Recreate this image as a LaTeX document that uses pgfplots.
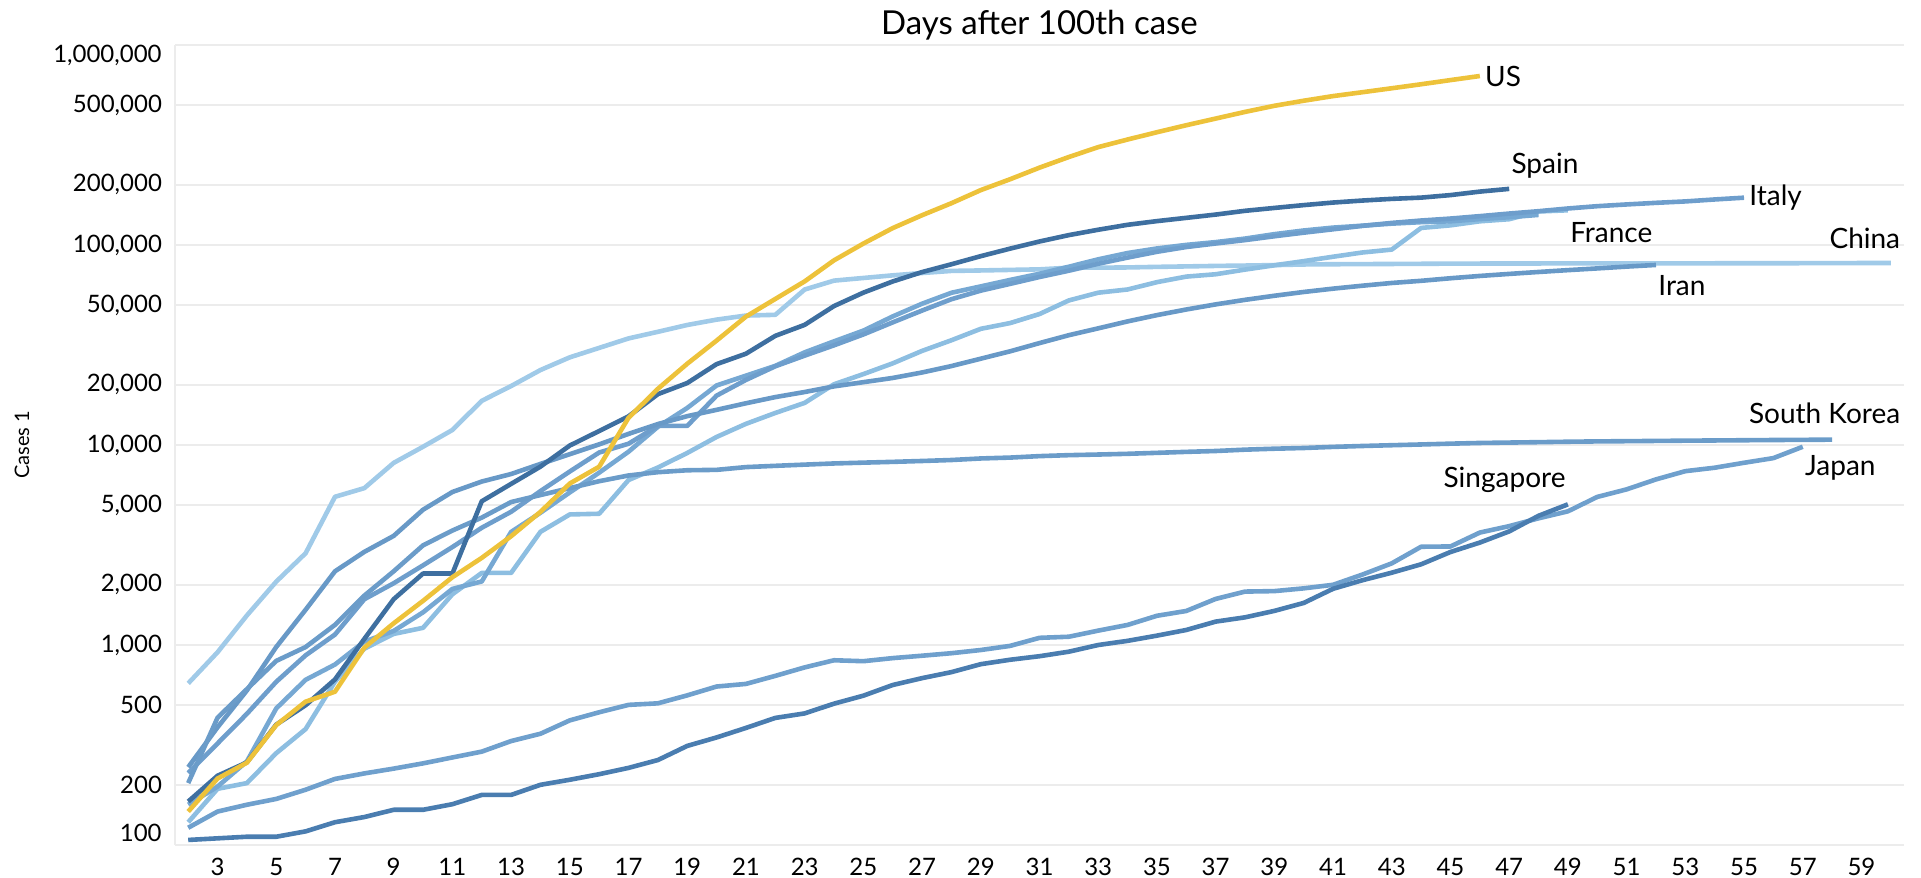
\documentclass[border=0pt]{standalone}
\usepackage{fontspec}
\setmainfont{Lato}
\usepackage{pgfplots}
\pgfplotsset{compat=1.18}
\usetikzlibrary{calc}
\definecolor{cUS}{RGB}{237,194,58}
\definecolor{cSpain}{RGB}{62,111,160}
\definecolor{cSing}{RGB}{74,125,176}
\definecolor{cItaly}{RGB}{110,158,204}
\definecolor{cIran}{RGB}{104,153,199}
\definecolor{cKorea}{RGB}{107,156,201}
\definecolor{cJapan}{RGB}{111,160,205}
\definecolor{cGermany}{RGB}{118,168,211}
\definecolor{cFrance}{RGB}{141,190,225}
\definecolor{cChina}{RGB}{160,202,232}
\definecolor{gridc}{RGB}{236,236,236}
\begin{document}
\begin{tikzpicture}
\begin{axis}[
  scale only axis, width=864.5pt, height=400pt,
  xmin=1.55, xmax=60.45, ymode=log, ymin=100, ymax=1000000,
  axis lines*=left, axis line style={draw=gridc, line width=1pt, -},
  xtick={3,5,...,59}, major tick length=0pt,
  ytick={100,200,500,1000,2000,5000,10000,20000,50000,100000,200000,500000,1000000},
  yticklabels={,200,500,{1,000},{2,000},{5,000},{10,000},{20,000},{50,000},{100,000},{200,000},{500,000},},
  /pgf/number format/assume math mode=true,
  ticklabel style={font=\fontsize{12}{14}\selectfont, text=black},
  yticklabel style={anchor=east, xshift=-3pt},
  xticklabel style={anchor=north, yshift=-3pt},
  ymajorgrids, major grid style={draw=gridc, line width=1pt},
  clip=false,
  every axis plot/.append style={line width=2.3pt, line join=round, no markers},
]
\coordinate (blc) at (rel axis cs:0,0);
\coordinate (trc) at (rel axis cs:1,1);
% China
\addplot[color=cChina] coordinates {(2,643)(3,920)(4,1406)(5,2075)(6,2877)(7,5509)(8,6087)(9,8141)(10,9802)(11,11891)(12,16630)(13,19716)(14,23707)(15,27440)(16,30587)(17,34110)(18,36814)(19,39829)(20,42354)(21,44386)(22,44759)(23,59895)(24,66358)(25,68413)(26,70513)(27,72434)(28,74211)(29,74619)(30,75077)(31,75550)(32,77001)(33,77022)(34,77241)(35,77754)(36,78166)(37,78600)(38,78928)(39,79356)(40,79932)(41,80136)(42,80261)(43,80386)(44,80537)(45,80690)(46,80770)(47,80823)(48,80860)(49,80887)(50,80921)(51,80932)(52,80945)(53,80977)(54,81003)(55,81033)(56,81058)(57,81102)(58,81156)(59,81250)(60,81305)};
% France
\addplot[color=cFrance] coordinates {(2,130)(3,191)(4,204)(5,288)(6,380)(7,656)(8,959)(9,1136)(10,1219)(11,1794)(12,2293)(13,2293)(14,3681)(15,4496)(16,4532)(17,6683)(18,7715)(19,9124)(20,10970)(21,12758)(22,14463)(23,16243)(24,20123)(25,22622)(26,25600)(27,29551)(28,33402)(29,38105)(30,40708)(31,45170)(32,52827)(33,57749)(34,59929)(35,65202)(36,69500)(37,71412)(38,75343)(39,79163)(40,83057)(41,87366)(42,91738)(43,94863)(44,121712)(45,125394)(46,131361)(47,134582)(48,147091)(49,149130)};
% Germany
\addplot[color=cGermany] coordinates {(2,159)(3,196)(4,262)(5,482)(6,670)(7,799)(8,1040)(9,1176)(10,1457)(11,1908)(12,2078)(13,3675)(14,4585)(15,5795)(16,7272)(17,9257)(18,12327)(19,15320)(20,19848)(21,22213)(22,24873)(23,29056)(24,32986)(25,37323)(26,43938)(27,50871)(28,57695)(29,62095)(30,66885)(31,71808)(32,77872)(33,84794)(34,91159)(35,96092)(36,100123)(37,103374)(38,107663)(39,113296)(40,118181)(41,122171)(42,124908)(43,127854)(44,130072)(45,131359)(46,134753)(47,137698)(48,141397)};
% Italy
\addplot[color=cItaly] coordinates {(2,229)(3,322)(4,453)(5,655)(6,888)(7,1128)(8,1694)(9,2036)(10,2502)(11,3089)(12,3858)(13,4636)(14,5883)(15,7375)(16,9172)(17,10149)(18,12462)(19,12462)(20,17660)(21,21157)(22,24747)(23,27980)(24,31506)(25,35713)(26,41035)(27,47021)(28,53578)(29,59138)(30,63927)(31,69176)(32,74386)(33,80589)(34,86498)(35,92472)(36,97689)(37,101739)(38,105792)(39,110574)(40,115242)(41,119827)(42,124632)(43,128948)(44,132547)(45,135586)(46,139422)(47,143626)(48,147577)(49,152271)(50,156363)(51,159516)(52,162488)(53,165155)(54,168941)(55,172434)};
% Iran
\addplot[color=cIran] coordinates {(2,245)(3,388)(4,593)(5,978)(6,1501)(7,2336)(8,2922)(9,3513)(10,4747)(11,5823)(12,6566)(13,7161)(14,8042)(15,9000)(16,10075)(17,11364)(18,12729)(19,13938)(20,14991)(21,16169)(22,17361)(23,18407)(24,19644)(25,20610)(26,21638)(27,23049)(28,24811)(29,27017)(30,29406)(31,32332)(32,35408)(33,38309)(34,41495)(35,44605)(36,47593)(37,50468)(38,53183)(39,55743)(40,58226)(41,60500)(42,62589)(43,64586)(44,66220)(45,68192)(46,70029)(47,71686)(48,73303)(49,74877)(50,76389)(51,77995)(52,79494)};
% South Korea
\addplot[color=cKorea] coordinates {(2,204)(3,433)(4,602)(5,833)(6,977)(7,1261)(8,1766)(9,2337)(10,3150)(11,3736)(12,4335)(13,5186)(14,5621)(15,6088)(16,6593)(17,7041)(18,7314)(19,7478)(20,7513)(21,7755)(22,7869)(23,7979)(24,8086)(25,8162)(26,8236)(27,8320)(28,8413)(29,8565)(30,8652)(31,8799)(32,8897)(33,8961)(34,9037)(35,9137)(36,9241)(37,9332)(38,9478)(39,9583)(40,9661)(41,9786)(42,9887)(43,9976)(44,10062)(45,10156)(46,10237)(47,10284)(48,10331)(49,10384)(50,10423)(51,10450)(52,10480)(53,10512)(54,10537)(55,10564)(56,10591)(57,10613)(58,10635)};
% Japan
\addplot[color=cJapan] coordinates {(2,122)(3,147)(4,159)(5,170)(6,189)(7,214)(8,228)(9,241)(10,256)(11,274)(12,293)(13,331)(14,360)(15,420)(16,461)(17,502)(18,511)(19,560)(20,620)(21,639)(22,701)(23,773)(24,839)(25,830)(26,860)(27,884)(28,910)(29,944)(30,990)(31,1086)(32,1100)(33,1180)(34,1260)(35,1400)(36,1480)(37,1700)(38,1850)(39,1860)(40,1920)(41,2000)(42,2250)(43,2560)(44,3100)(45,3110)(46,3650)(47,3930)(48,4300)(49,4660)(50,5500)(51,6000)(52,6730)(53,7400)(54,7700)(55,8150)(56,8600)(57,9800)};
% Singapore
\addplot[color=cSing] coordinates {(2,106)(3,108)(4,110)(5,110)(6,117)(7,130)(8,138)(9,150)(10,150)(11,160)(12,178)(13,178)(14,200)(15,212)(16,226)(17,243)(18,266)(19,313)(20,345)(21,385)(22,432)(23,455)(24,509)(25,558)(26,631)(27,683)(28,732)(29,802)(30,844)(31,879)(32,926)(33,1000)(34,1049)(35,1114)(36,1189)(37,1309)(38,1375)(39,1481)(40,1623)(41,1910)(42,2108)(43,2299)(44,2532)(45,2918)(46,3252)(47,3699)(48,4427)(49,5050)};
% Spain
\addplot[color=cSpain] coordinates {(2,165)(3,222)(4,259)(5,400)(6,500)(7,673)(8,1073)(9,1695)(10,2277)(11,2277)(12,5232)(13,6391)(14,7798)(15,9942)(16,11748)(17,13910)(18,17963)(19,20410)(20,25374)(21,28603)(22,35136)(23,39885)(24,49515)(25,57786)(26,65719)(27,73235)(28,80110)(29,87956)(30,95923)(31,104118)(32,112065)(33,119199)(34,126168)(35,131646)(36,136675)(37,141942)(38,148220)(39,153222)(40,158273)(41,163027)(42,166831)(43,170099)(44,172541)(45,177644)(46,184948)(47,190839)};
% US
\addplot[color=cUS] coordinates {(2,147)(3,215)(4,258)(5,398)(6,521)(7,584)(8,970)(9,1284)(10,1663)(11,2183)(12,2727)(13,3499)(14,4632)(15,6421)(16,7786)(17,13680)(18,19101)(19,25489)(20,33276)(21,43847)(22,53740)(23,65778)(24,83836)(25,101657)(26,121478)(27,140886)(28,161807)(29,188172)(30,213242)(31,243622)(32,275367)(33,308650)(34,336802)(35,366317)(36,397121)(37,428654)(38,462780)(39,496535)(40,526396)(41,555313)(42,580619)(43,607670)(44,636350)(45,667592)(46,699706)};
% labels
\begin{scope}[every node/.style={font=\fontsize{14}{16}\selectfont, text=black, inner sep=1pt}]
\node[anchor=west] at (axis cs:46.1,699706) {US};
\node[anchor=west] at (axis cs:47.0,250000) {Spain};
\node[anchor=west] at (axis cs:55.1,172434) {Italy};
\node[anchor=west] at (axis cs:49.0,116000) {France};
\node[anchor=east] at (axis cs:60.4,108000) {China};
\node[anchor=west] at (axis cs:52.0,63000) {Iran};
\node[anchor=east] at (axis cs:60.4,14450) {South Korea};
\node[anchor=west] at (axis cs:57.0,7670) {Japan};
\node[anchor=east] at (axis cs:49.0,6680) {Singapore};
\end{scope}
\node[anchor=east, font=\fontsize{12}{14}\selectfont, inner sep=0pt] at (rel axis cs:0,0) [xshift=-6.5pt, yshift=6pt] {100};
\node[anchor=east, font=\fontsize{12}{14}\selectfont, inner sep=0pt] at (rel axis cs:0,1) [xshift=-6.5pt, yshift=-5pt] {1,000,000};
\end{axis}
\node[font=\fontsize{16.5}{18}\selectfont, anchor=center] at ($(blc|-trc)!0.5!(trc)+(0,10pt)$) {Days after 100th case};
\node[rotate=90, font=\fontsize{10}{12}\selectfont, anchor=center] at ($(blc)!0.5!(blc|-trc)+(-76.5pt,0)$) {Cases 1};
\pgfresetboundingbox
\useasboundingbox ($(blc)+(-87.5pt,-16pt)$) rectangle ($(trc)+(8.5pt,22.5pt)$);
\end{tikzpicture}
\end{document}
